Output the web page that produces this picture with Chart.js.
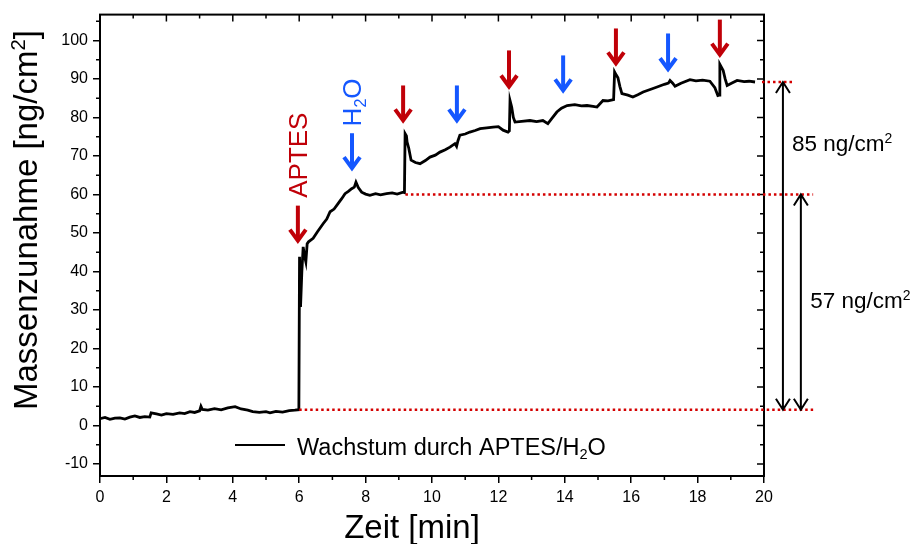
<!DOCTYPE html>
<html>
<head>
<meta charset="utf-8">
<script src="https://cdn.jsdelivr.net/npm/chart.js@4/dist/chart.umd.min.js"></script>
<style>
  html, body { margin: 0; padding: 0; background: #fff; }
  #wrap { width: 911px; height: 544px; }
</style>
</head>
<body>
<div id="wrap"><canvas id="grafico" width="911" height="544"></canvas></div>
<script>
// Zeit in Minuten und Massenzunahme in ng/cm2
const timeMin = [
    0.00, 0.15, 0.30, 0.45, 0.60, 0.75, 0.90, 1.05, 1.20, 1.35, 1.50, 1.54, 1.70, 1.85, 2.00,
    2.20, 2.40, 2.55, 2.71, 2.85, 3.00, 3.04, 3.08, 3.25, 3.45, 3.65, 3.85, 4.07, 4.25, 4.45,
    4.60, 4.80, 5.00, 5.12, 5.30, 5.50, 5.70, 5.87, 5.99, 6.01, 6.04, 6.08, 6.12, 6.16, 6.20,
    6.24, 6.28, 6.42, 6.55, 6.72, 6.83, 6.93, 7.05, 7.17, 7.28, 7.38, 7.48, 7.58, 7.66, 7.71,
    7.78, 7.88, 8.00, 8.13, 8.30, 8.45, 8.63, 8.80, 8.95, 9.13, 9.17, 9.19, 9.23, 9.25, 9.30,
    9.37, 9.50, 9.64, 9.80, 9.94, 10.10, 10.24, 10.40, 10.54, 10.69, 10.74, 10.78, 10.84, 11.00, 11.14,
    11.30, 11.45, 11.65, 11.84, 12.00, 12.14, 12.29, 12.33, 12.35, 12.40, 12.45, 12.50, 12.70, 12.95, 13.15,
    13.34, 13.49, 13.60, 13.76, 13.90, 14.07, 14.30, 14.50, 14.67, 14.85, 14.97, 15.15, 15.30, 15.47, 15.50,
    15.55, 15.60, 15.66, 15.72, 15.90, 16.05, 16.20, 16.36, 16.55, 16.78, 17.00, 17.12, 17.17, 17.25, 17.32,
    17.50, 17.77, 17.95, 18.15, 18.37, 18.52, 18.61, 18.65, 18.67, 18.72, 18.77, 18.83, 18.89, 19.05, 19.19,
    19.40, 19.55, 19.73
];
const massGain = [
    1.8, 2.1, 1.6, 1.9, 2.0, 1.7, 2.2, 2.5, 2.1, 2.3, 2.2, 3.3, 3.0, 2.7, 3.1,
    2.9, 3.3, 3.1, 3.6, 3.4, 3.8, 5.0, 4.2, 4.0, 4.4, 4.1, 4.6, 4.9, 4.3, 4.0,
    3.6, 3.4, 3.6, 3.3, 3.7, 3.5, 3.9, 4.0, 4.1, 43.8, 30.8, 40.0, 46.4, 44.0, 42.5,
    47.2, 47.7, 48.6, 50.3, 52.4, 53.6, 55.5, 56.2, 57.6, 58.9, 60.2, 60.8, 61.5, 61.9, 63.2,
    61.8, 60.6, 60.1, 59.8, 60.2, 59.9, 60.2, 60.4, 60.1, 60.6, 60.5, 75.8, 75.2, 73.6, 72.0,
    68.9, 68.3, 68.0, 68.8, 69.7, 70.2, 71.0, 71.6, 72.3, 73.2, 72.5, 73.9, 75.4, 75.7, 76.2,
    76.6, 77.1, 77.3, 77.5, 77.6, 76.7, 76.2, 76.5, 84.4, 82.7, 80.0, 78.8, 79.0, 79.2, 78.9,
    79.2, 78.4, 79.6, 81.4, 82.4, 83.1, 83.3, 83.0, 83.1, 82.9, 82.7, 84.4, 84.3, 84.6, 91.8,
    91.0, 90.3, 88.0, 86.2, 85.8, 85.3, 85.9, 86.6, 87.2, 87.9, 88.6, 88.9, 89.6, 88.9, 88.1,
    88.9, 89.8, 89.5, 89.7, 89.4, 87.7, 85.7, 85.8, 93.8, 93.0, 92.2, 90.0, 88.3, 89.0, 89.6,
    89.3, 89.4, 89.2
];

const xTicks = [0, 2, 4, 6, 8, 10, 12, 14, 16, 18, 20];
const yTicks = [-10, 0, 10, 20, 30, 40, 50, 60, 70, 80, 90, 100];

// Zugaben (APTES rot, H2O blau): Zeitpunkt und Pfeil von/bis in ng/cm2
const injections = [
    { t: 5.96, kind: 'APTES', from: 57.1, to: 47.5 },
    { t: 7.59, kind: 'H2O', from: 75.9, to: 66.3 },
    { t: 9.13, kind: 'APTES', from: 88.3, to: 78.7 },
    { t: 10.75, kind: 'H2O', from: 88.3, to: 78.7 },
    { t: 12.32, kind: 'APTES', from: 97.4, to: 87.5 },
    { t: 13.95, kind: 'H2O', from: 96.1, to: 86.5 },
    { t: 15.54, kind: 'APTES', from: 103.1, to: 93.5 },
    { t: 17.11, kind: 'H2O', from: 101.8, to: 92.0 },
    { t: 18.67, kind: 'APTES', from: 105.4, to: 95.8 }
];

// Niveaus der Massenzunahme
const levelStart = 4.1;
const levelAfterFirst = 60.0;
const levelEnd = 89.2;

const FONT = '"Liberation Sans", Arial, sans-serif';
const RED = '#c00008';
const BLUE = '#1457ff';

function richWidth(ctx, parts, size) {
    let w = 0;
    parts.forEach(p => {
        const s = p[1] ? size * 0.62 : size;
        ctx.font = s + 'px ' + FONT;
        w += ctx.measureText(p[0]).width;
    });
    return w;
}

function drawRich(ctx, parts, x, y, size) {
    let cx = x;
    parts.forEach(p => {
        const s = p[1] ? size * 0.62 : size;
        ctx.font = s + 'px ' + FONT;
        let dy = 0;
        if (p[1] === 'sup') dy = -size * 0.36;
        if (p[1] === 'sub') dy = size * 0.18;
        ctx.fillText(p[0], cx, y + dy);
        cx += ctx.measureText(p[0]).width;
    });
}

function arrowDown(ctx, xp, y0, y1, color) {
    ctx.save();
    ctx.strokeStyle = color;
    ctx.lineWidth = 4;
    ctx.lineCap = 'butt';
    ctx.lineJoin = 'miter';
    ctx.beginPath();
    ctx.moveTo(xp, y0);
    ctx.lineTo(xp, y1 - 3);
    ctx.stroke();
    ctx.beginPath();
    ctx.moveTo(xp - 8, y1 - 13);
    ctx.lineTo(xp, y1 - 2);
    ctx.lineTo(xp + 8, y1 - 13);
    ctx.stroke();
    ctx.restore();
}

function doubleArrow(ctx, xp, yTop, yBot) {
    ctx.save();
    ctx.strokeStyle = '#000';
    ctx.lineWidth = 2;
    ctx.beginPath();
    ctx.moveTo(xp, yTop);
    ctx.lineTo(xp, yBot);
    ctx.moveTo(xp - 7, yTop + 11);
    ctx.lineTo(xp, yTop);
    ctx.lineTo(xp + 7, yTop + 11);
    ctx.moveTo(xp - 7, yBot - 11);
    ctx.lineTo(xp, yBot);
    ctx.lineTo(xp + 7, yBot - 11);
    ctx.stroke();
    ctx.restore();
}

function dotted(ctx, x0, x1, yp) {
    ctx.save();
    ctx.strokeStyle = '#d40000';
    ctx.lineWidth = 2.5;
    ctx.setLineDash([2.5, 3]);
    ctx.beginPath();
    ctx.moveTo(x0, yp);
    ctx.lineTo(x1, yp);
    ctx.stroke();
    ctx.restore();
}

const extras = {
    id: 'extras',
    afterDraw(chart) {
        const ctx = chart.ctx;
        const a = chart.chartArea;
        const xs = chart.scales.x, ys = chart.scales.y;
        const X = v => xs.getPixelForValue(v);
        const Y = v => ys.getPixelForValue(v);

        ctx.save();
        // Rahmen
        ctx.strokeStyle = '#000';
        ctx.lineWidth = 2;
        ctx.strokeRect(a.left, a.top, a.right - a.left, a.bottom - a.top);

        // Ticks: Nebenticks aussen, Spiegelticks innen
        ctx.lineWidth = 1.5;
        ctx.beginPath();
        for (let v = 0; v <= 20; v += 1) {
            const p = X(v);
            const major = v % 2 === 0;
            if (!major) { ctx.moveTo(p, a.bottom); ctx.lineTo(p, a.bottom + 4); }
            ctx.moveTo(p, a.top); ctx.lineTo(p, a.top + (major ? 7 : 4));
        }
        for (let v = -10; v <= 105; v += 5) {
            const p = Y(v);
            const major = v % 10 === 0;
            if (!major) { ctx.moveTo(a.left, p); ctx.lineTo(a.left - 4, p); }
            ctx.moveTo(a.right, p); ctx.lineTo(a.right - (major ? 7 : 4), p);
        }
        ctx.stroke();

        // rote gepunktete Niveaulinien
        dotted(ctx, X(6.0), X(21.48), Y(levelStart));
        dotted(ctx, X(9.2), X(21.48), Y(levelAfterFirst));
        dotted(ctx, X(19.94), X(20.93), Y(levelEnd));

        // Doppelpfeile
        doubleArrow(ctx, X(20.57), Y(levelEnd), Y(levelStart));
        doubleArrow(ctx, X(21.11), Y(levelAfterFirst), Y(levelStart));
        ctx.fillStyle = '#000';
        ctx.textAlign = 'left';
        ctx.textBaseline = 'alphabetic';
        drawRich(ctx, [['85 ng/cm', ''], ['2', 'sup']], X(20.84), 151, 22.5);
        drawRich(ctx, [['57 ng/cm', ''], ['2', 'sup']], X(21.39), 308, 22.5);

        // Zugabepfeile
        injections.forEach(inj => {
            arrowDown(ctx, X(inj.t), Y(inj.from), Y(inj.to), inj.kind === 'APTES' ? RED : BLUE);
        });

        // gedrehte Beschriftungen
        ctx.save();
        ctx.translate(X(5.96) + 9, Y(70.2));
        ctx.rotate(-Math.PI / 2);
        ctx.fillStyle = RED;
        ctx.font = '26px ' + FONT;
        ctx.textAlign = 'center';
        ctx.fillText('APTES', 0, 0);
        ctx.restore();

        ctx.save();
        const h2o = [['H', ''], ['2', 'sub'], ['O', '']];
        ctx.translate(X(7.59) + 9, Y(83.9));
        ctx.rotate(-Math.PI / 2);
        ctx.fillStyle = BLUE;
        ctx.textAlign = 'left';
        drawRich(ctx, h2o, -richWidth(ctx, h2o, 26) / 2, 0, 26);
        ctx.restore();

        // Legende
        ctx.strokeStyle = '#000';
        ctx.lineWidth = 2;
        ctx.beginPath();
        ctx.moveTo(235, 445);
        ctx.lineTo(285, 445);
        ctx.stroke();
        ctx.fillStyle = '#000';
        ctx.textAlign = 'left';
        drawRich(ctx, [['Wachstum durch APTES/H', ''], ['2', 'sub'], ['O', '']], 297, 455, 23.5);

        // Achsentitel
        ctx.save();
        const yTitle = [['Massenzunahme [ng/cm', ''], ['2', 'sup'], [']', '']];
        ctx.translate(37, 220);
        ctx.rotate(-Math.PI / 2);
        drawRich(ctx, yTitle, -richWidth(ctx, yTitle, 33) / 2, 0, 33);
        ctx.restore();

        ctx.font = '33px ' + FONT;
        ctx.textAlign = 'center';
        ctx.fillText('Zeit [min]', 412, 538);
        ctx.restore();
    }
};

const ctx = document.getElementById('grafico').getContext('2d');
new Chart(ctx, {
    type: 'scatter',
    data: {
        datasets: [{
            label: 'Wachstum durch APTES/H2O',
            data: timeMin.map((t, i) => ({ x: t, y: massGain[i] })),
            showLine: true,
            borderColor: '#000',
            borderWidth: 2.8,
            pointRadius: 0,
            tension: 0
        }]
    },
    options: {
        responsive: false,
        animation: false,
        devicePixelRatio: 1,
        layout: { padding: { left: 0, right: 147, top: 14, bottom: 0 } },
        plugins: {
            legend: { display: false },
            tooltip: { enabled: false }
        },
        scales: {
            x: {
                type: 'linear',
                min: 0,
                max: 20,
                afterBuildTicks: s => { s.ticks = xTicks.map(v => ({ value: v })); },
                afterFit: s => { s.height = 68; },
                ticks: {
                    color: '#000',
                    font: { family: FONT, size: 16 },
                    padding: 5,
                    maxRotation: 0
                },
                grid: {
                    drawOnChartArea: false,
                    tickLength: 7,
                    color: '#000',
                    lineWidth: 1.5
                },
                border: { color: '#000', width: 2 }
            },
            y: {
                min: -13.1,
                max: 106.7,
                afterBuildTicks: s => { s.ticks = yTicks.map(v => ({ value: v })); },
                afterFit: s => { s.width = 100; },
                ticks: {
                    color: '#000',
                    font: { family: FONT, size: 16 },
                    padding: 5
                },
                grid: {
                    drawOnChartArea: false,
                    tickLength: 7,
                    color: '#000',
                    lineWidth: 1.5
                },
                border: { color: '#000', width: 2 }
            }
        }
    },
    plugins: [extras]
});
</script>
</body>
</html>
